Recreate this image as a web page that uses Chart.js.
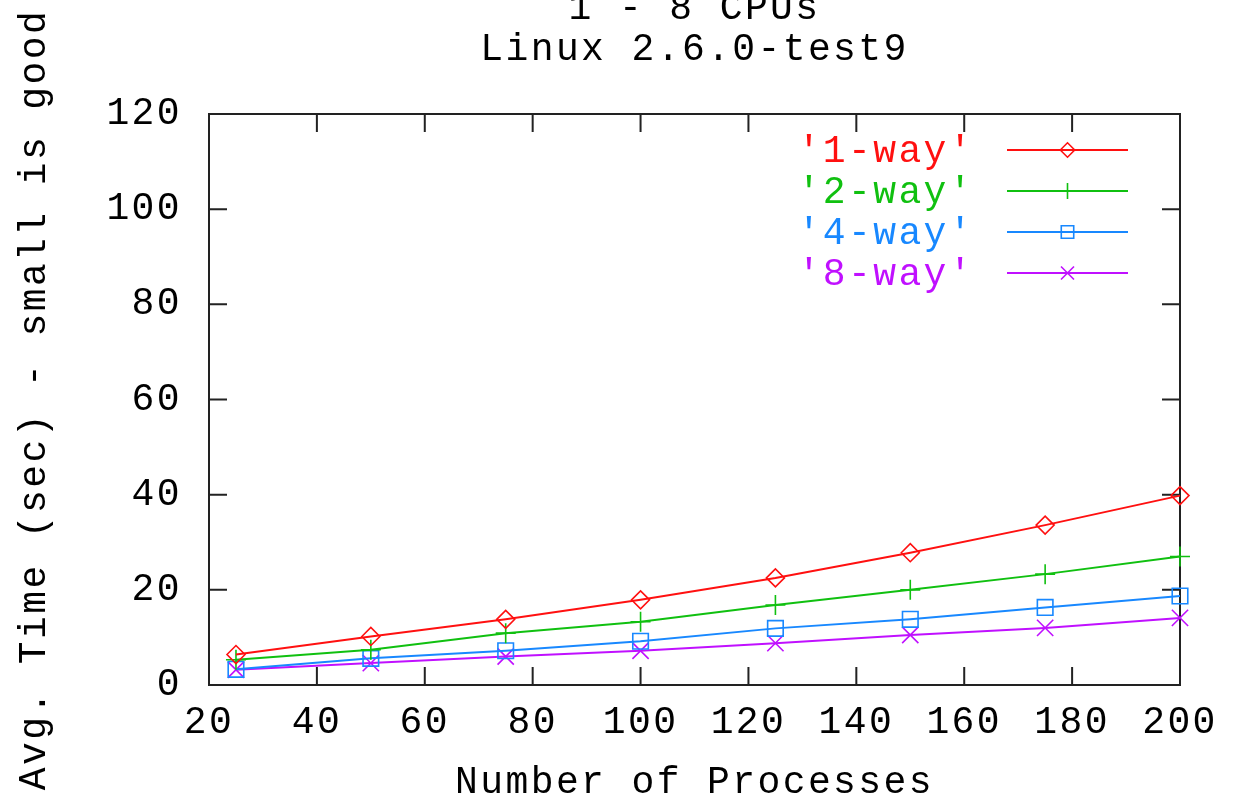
<!DOCTYPE html>
<html>
<head>
<meta charset="utf-8">
<script src="https://cdn.jsdelivr.net/npm/chart.js@4/dist/chart.umd.min.js"></script>
<style>
  body { margin: 0; background: #fff; }
  #wrap { width: 1234px; height: 802px; }
</style>
</head>
<body>
<div id="wrap"><canvas id="cpuChart"></canvas></div>
<script>
// valeurs
const processes = [25, 50, 75, 100, 125, 150, 175, 200];
const oneWay   = [6.4, 10.2, 13.8, 17.9, 22.5, 27.8, 33.6, 39.8];
const twoWay   = [5.3, 7.4, 10.9, 13.3, 16.8, 20.0, 23.3, 27.0];
const fourWay  = [3.3, 5.6, 7.2, 9.2, 11.9, 13.8, 16.3, 18.7];
const eightWay = [3.2, 4.6, 6.0, 7.2, 8.8, 10.5, 12.0, 14.1];
const seriesNames = ["'1-way'", "'2-way'", "'4-way'", "'8-way'"];
const titleLines = ['1 - 8 CPUs', 'Linux 2.6.0-test9'];

const FONT = "'Liberation Mono', 'DejaVu Sans Mono', monospace";
const SPACING = '2.4px';

function pts(values) {
    return processes.map(function(p, i) { return { x: p, y: values[i] }; });
}

function serie(label, values, color, style, radius) {
    return {
        label: label,
        data: pts(values),
        borderColor: color,
        backgroundColor: color,
        borderWidth: 2,
        pointStyle: style,
        pointRadius: radius,
        pointBorderWidth: 1.6,
        pointBackgroundColor: 'transparent',
        pointBorderColor: color,
        clip: false
    };
}

// police plus large, comme le terminal gnuplot
const spacingPlugin = {
    id: 'spacing',
    beforeUpdate(chart) { chart.ctx.letterSpacing = SPACING; },
    beforeDraw(chart) { chart.ctx.letterSpacing = SPACING; }
};

// titre centré sur la zone du graphique
const titlePlugin = {
    id: 'gnuTitle',
    afterDraw(chart) {
        const ctx = chart.ctx;
        const a = chart.chartArea;
        ctx.save();
        ctx.font = '38px ' + FONT;
        ctx.fillStyle = '#000';
        ctx.textAlign = 'center';
        ctx.textBaseline = 'middle';
        const cx = (a.left + a.right) / 2;
        ctx.fillText(titleLines[0], cx, 9);
        ctx.fillText(titleLines[1], cx, 50);
        ctx.restore();
    }
};

// cadre + graduations vers l'intérieur sur les 4 côtés
const framePlugin = {
    id: 'gnuFrame',
    beforeDatasetsDraw(chart) {
        const ctx = chart.ctx;
        const a = chart.chartArea;
        const xs = chart.scales.x, ys = chart.scales.y;
        const tl = 18;
        ctx.save();
        ctx.strokeStyle = '#222';
        ctx.lineWidth = 2;
        ctx.strokeRect(a.left, a.top, a.right - a.left, a.bottom - a.top);
        ctx.beginPath();
        xs.ticks.forEach(function(t) {
            const px = xs.getPixelForValue(t.value);
            ctx.moveTo(px, a.bottom); ctx.lineTo(px, a.bottom - tl);
            ctx.moveTo(px, a.top); ctx.lineTo(px, a.top + tl);
        });
        ys.ticks.forEach(function(t) {
            const py = ys.getPixelForValue(t.value);
            ctx.moveTo(a.left, py); ctx.lineTo(a.left + tl, py);
            ctx.moveTo(a.right, py); ctx.lineTo(a.right - tl, py);
        });
        ctx.stroke();
        ctx.restore();
    }
};

// légende dans le coin haut droit, texte à gauche du symbole
const legendPlugin = {
    id: 'gnuLegend',
    afterDraw(chart) {
        const ctx = chart.ctx;
        const a = chart.chartArea;
        ctx.save();
        ctx.font = '38px ' + FONT;
        ctx.textAlign = 'right';
        ctx.textBaseline = 'middle';
        chart.data.datasets.forEach(function(ds, i) {
            const y = a.top + 36 + i * 41;
            const x0 = a.right - 173, x1 = a.right - 52;
            ctx.fillStyle = ds.borderColor;
            ctx.fillText(ds.label, a.right - 206, y + 2);
            ctx.strokeStyle = ds.borderColor;
            ctx.lineWidth = 2;
            ctx.beginPath();
            ctx.moveTo(x0, y); ctx.lineTo(x1, y);
            ctx.stroke();
            if (Chart.helpers && Chart.helpers.drawPoint) {
                ctx.lineWidth = 1.6;
                ctx.fillStyle = 'transparent';
                Chart.helpers.drawPoint(ctx, {
                    pointStyle: ds.pointStyle,
                    radius: ds.pointRadius * 0.8,
                    rotation: 0,
                    borderWidth: 1.6
                }, (x0 + x1) / 2, y);
            }
        });
        ctx.restore();
    }
};

document.addEventListener('DOMContentLoaded', function() {
    const ctx = document.getElementById('cpuChart').getContext('2d');
    new Chart(ctx, {
        type: 'line',
        data: {
            datasets: [
                serie(seriesNames[0], oneWay,   '#ff1010', 'rectRot', 9),
                serie(seriesNames[1], twoWay,   '#10c010', 'cross', 10),
                serie(seriesNames[2], fourWay,  '#1888ff', 'rect', 11),
                serie(seriesNames[3], eightWay, '#c010ff', 'crossRot', 11.5)
            ]
        },
        options: {
            responsive: true,
            maintainAspectRatio: false,
            animation: false,
            layout: { padding: { top: 114, right: 54, left: 0, bottom: 0 } },
            plugins: {
                legend: { display: false },
                title: { display: false },
                tooltip: { enabled: false }
            },
            scales: {
                x: {
                    type: 'linear',
                    min: 20,
                    max: 200,
                    grid: { display: false, drawTicks: false },
                    border: { display: false },
                    ticks: {
                        stepSize: 20,
                        padding: 15,
                        color: '#000',
                        maxRotation: 0,
                        font: { family: FONT, size: 38 }
                    },
                    title: {
                        display: true,
                        text: 'Number of Processes',
                        color: '#000',
                        padding: 0,
                        font: { family: FONT, size: 38, lineHeight: 1 }
                    },
                    afterFit: function(scale) { scale.height = 117; }
                },
                y: {
                    min: 0,
                    max: 120,
                    grid: { display: false, drawTicks: false },
                    border: { display: false },
                    ticks: {
                        stepSize: 20,
                        padding: 27,
                        color: '#000',
                        font: { family: FONT, size: 38 }
                    },
                    title: {
                        display: true,
                        text: 'Avg. Time (sec) - small is good',
                        color: '#000',
                        padding: { top: 16, bottom: 0 },
                        font: { family: FONT, size: 38, lineHeight: 1 }
                    },
                    afterFit: function(scale) { scale.width = 209; }
                }
            }
        },
        plugins: [spacingPlugin, framePlugin, titlePlugin, legendPlugin]
    });
});
</script>
</body>
</html>
